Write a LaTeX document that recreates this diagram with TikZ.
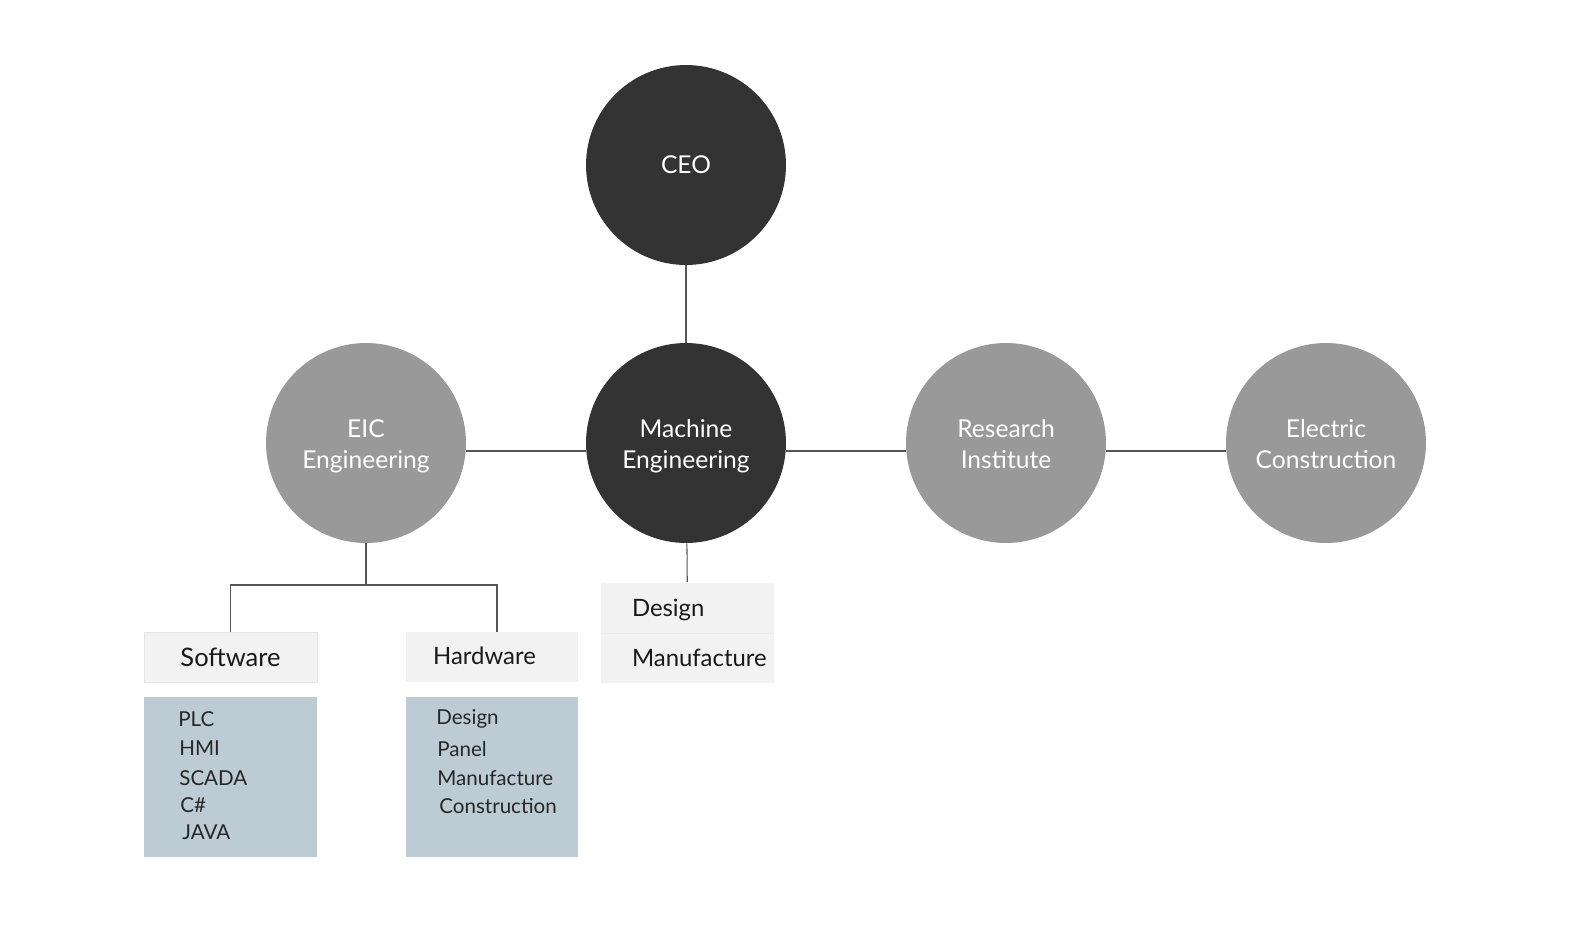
\documentclass[tikz,border=0pt]{standalone}
\usepackage{fontspec}
\setmainfont{Lato}
\usetikzlibrary{positioning}

\definecolor{darkc}{HTML}{333333}
\definecolor{greyc}{HTML}{999999}
\definecolor{boxc}{HTML}{F2F2F2}
\definecolor{listc}{HTML}{BDCCD4}
\definecolor{linec}{HTML}{555555}

\newcommand\twolines[2]{\rule{0pt}{16.8pt}#1\\#2\strut}

\begin{document}
\begin{tikzpicture}[x=0.02cm,y=-0.02cm,
    unit/.style={circle,minimum size=4cm,inner sep=0pt,text=white,align=center,font=\fontsize{14}{17.5}\selectfont},
    topunit/.style={unit,fill=darkc},
    subunit/.style={unit,fill=greyc},
    headbox/.style={fill=boxc,minimum width=3.46cm,minimum height=1cm,inner sep=0pt,font=\fontsize{14.5}{17}\selectfont,text=black!90},
    listbox/.style={fill=listc,minimum width=3.46cm,minimum height=3.2cm,inner sep=0pt},
    item/.style={anchor=west,inner sep=0pt,font=\fontsize{11.7}{13}\selectfont,text=black!85},
    link/.style={linec,line width=0.6pt}]
    \useasboundingbox (0,0) rectangle (1582,937);

    % circles
    \node[topunit] (ceo) at (686,165) {CEO};
    \node[topunit] (mach) at (686,443) {\twolines{Machine}{Engineering}};
    \node[subunit] (eic) at (366,443) {\twolines{EIC}{Engineering}};
    \node[subunit] (res) at (1006,443) {\twolines{Research}{Institute}};
    \node[subunit] (elec) at (1326,443) {\twolines{Electric}{Construction}};

    \draw[link] (ceo) -- (mach);
    \draw[link] ([yshift=-0.16cm]eic.east) -- ([yshift=-0.16cm]mach.west);
    \draw[link] ([yshift=-0.16cm]mach.east) -- ([yshift=-0.16cm]res.west);
    \draw[link] ([yshift=-0.16cm]res.east) -- ([yshift=-0.16cm]elec.west);

    % EIC branch
    \node[headbox,draw=black!10] (soft) at (230.5,657) {Software};
    \node[headbox,font=\fontsize{13.6}{16}\selectfont] (hard) at (492,657) {\raisebox{1pt}{Hardware}\hspace*{0.3cm}};
    \node[listbox] (softlist) at (230.5,777) {};
    \node[listbox] (hardlist) at (492,777) {};
    \coordinate (fork) at (366,585);
    \draw[link] (eic) -- (fork);
    \draw[link] (soft.north) |- (fork) -| ([xshift=0.1cm]hard.north);

    \foreach \t/\x/\y [count=\i] in {PLC/178/719,HMI/179/748,SCADA/179/778,C\#/180/805,JAVA/182/832}
        \node[item] (sw\i) at (\x,\y) {\t};
    \foreach \t/\x/\y [count=\i] in {Design/436/719,Panel/437/749,Manufacture/437/778,Construction/439/806}
        \node[item] (hw\i) at (\x,\y) {\t};

    % machine branch
    \node[headbox] (mdes) at (687.5,607.5) {};
    \node[headbox] (mman) at (687.5,657.5) {};
    \draw[white!92!black,line width=0.4pt] (mdes.south west) -- (mdes.south east);
    \node[item,font=\fontsize{13.6}{16}\selectfont,text=black!90] (mdestxt) at ([xshift=0.62cm,yshift=-0.04cm]mdes.west) {Design};
    \node[item,font=\fontsize{13.6}{16}\selectfont,text=black!90] (mmantxt) at ([xshift=0.62cm]mman.west) {Manufacture};
    \draw[link] (mach) -- (mdes);
\end{tikzpicture}
\end{document}
